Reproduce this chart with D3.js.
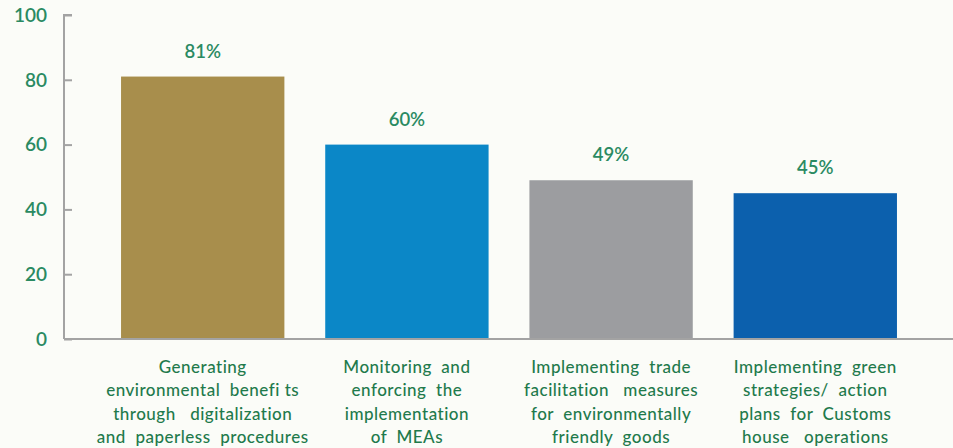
<!DOCTYPE html>
<html>
<head>
<meta charset="utf-8">
<script src="https://cdn.jsdelivr.net/npm/d3@7/dist/d3.min.js"></script>
<style>
  html, body { margin: 0; padding: 0; background: #fbfcf8; }
  svg { display: block; }
  text { font-family: Lato, "Open Sans", sans-serif; }
</style>
</head>
<body>
<svg id="chart" width="953" height="448"></svg>
<script>
const categories = [
  ["Generating", "environmental  benefi ts", "through   digitalization", "and  paperless  procedures"],
  ["Monitoring  and", "enforcing  the", "implementation", "of  MEAs"],
  ["Implementing  trade", "facilitation   measures", "for  environmentally", "friendly  goods"],
  ["Implementing  green", "strategies/  action", "plans  for  Customs", "house   operations"]
];
const values = [81, 60, 49, 45];
const valueLabels = ["81%", "60%", "49%", "45%"];
const yTicks = [0, 20, 40, 60, 80, 100];
const barColors = ["#a88e4c", "#0b87c7", "#9c9da0", "#0c60ad"];

const svg = d3.select("#chart");
const W = 953, H = 448;
const axisX = 64, y0 = 339, yTop = 15;

const x = d3.scaleBand()
  .domain(d3.range(values.length))
  .range([80.2, 937.8])
  .paddingInner(0.2)
  .paddingOuter(0.2);

const y = d3.scaleLinear().domain([0, 100]).range([y0, yTop]);

// y axis
const yAxis = d3.axisRight(y).tickValues(yTicks).tickSize(8).tickFormat(() => "");
const gy = svg.append("g").attr("transform", `translate(${axisX},0)`).call(yAxis);
gy.select(".domain").attr("stroke", "#a3a3a3").attr("stroke-width", 2).attr("d", `M8,${yTop}H0V${y0}`);
gy.selectAll(".tick line").attr("stroke", "#a3a3a3").attr("stroke-width", 2);

svg.append("g").selectAll("text").data(yTicks).join("text")
  .attr("x", 47).attr("y", d => y(d)).attr("dy", "0.36em")
  .attr("text-anchor", "end")
  .attr("font-size", 19).attr("font-weight", 600)
  .attr("fill", "#2a8a62")
  .text(d => d);

// bars
svg.append("g").selectAll("rect").data(values).join("rect")
  .attr("x", (d, i) => x(i)).attr("width", x.bandwidth())
  .attr("y", d => y(d)).attr("height", d => y(0) - y(d))
  .attr("fill", (d, i) => barColors[i]);

// baseline
svg.append("line").attr("x1", axisX).attr("x2", W).attr("y1", y0).attr("y2", y0)
  .attr("stroke", "#a3a3a3").attr("stroke-width", 2);

// value labels
svg.append("g").selectAll("text").data(values).join("text")
  .attr("x", (d, i) => x(i) + x.bandwidth() / 2)
  .attr("y", d => y(d) - 19)
  .attr("text-anchor", "middle")
  .attr("font-size", 18.5).attr("font-weight", 600)
  .attr("fill", "#2a8a62")
  .text((d, i) => valueLabels[i]);

// category labels
const lab = svg.append("g").selectAll("text").data(categories).join("text")
  .attr("text-anchor", "middle")
  .attr("font-size", 17).attr("font-weight", 500)
  .attr("fill", "#1f7a4c")
  .style("white-space", "pre")
  .attr("letter-spacing", 0.5);
lab.selectAll("tspan").data((d, i) => d.map(t => ({t, i}))).join("tspan")
  .attr("x", d => x(d.i) + x.bandwidth() / 2)
  .attr("y", (d, j) => 373 + j * 23.3)
  .text(d => d.t);
</script>
</body>
</html>
